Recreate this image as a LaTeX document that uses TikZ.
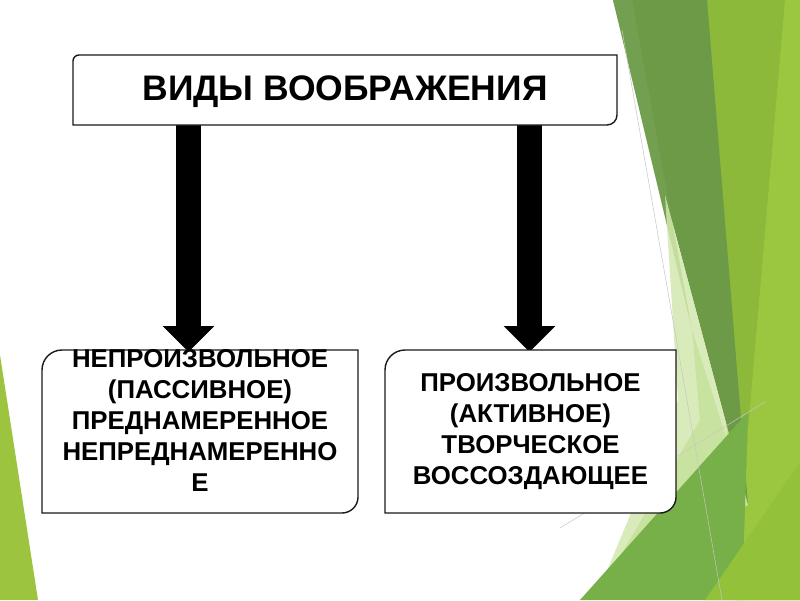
\documentclass[tikz,border=0pt]{standalone}
\usepackage{fontspec}
\setmainfont{Liberation Sans}
\usetikzlibrary{arrows.meta}
\definecolor{gdark}{HTML}{6C9A46}
\definecolor{gdarkl}{HTML}{73A050}
\definecolor{glime}{HTML}{8CB93A}
\definecolor{glimel}{HTML}{9BC640}
\definecolor{gmid}{HTML}{77AF48}
\definecolor{glimeb}{HTML}{93C23A}
\definecolor{gpale}{HTML}{D3E8AE}
\definecolor{gpale2}{HTML}{BEDC90}
\definecolor{gleft}{HTML}{9CC43E}
\tikzset{
  boxshape/.style={rectangle, inner sep=0pt, outer sep=0pt},
  boxline/.style={draw=black!90, line width=1.4pt, fill=white},
  titletext/.style={font=\bfseries\fontsize{35.5}{40}\selectfont, inner sep=0pt},
  lowtext/.style={font=\bfseries\fontsize{25.8}{31}\selectfont, align=center, inner sep=0pt},
  bigarrow/.style={line width=25pt, -{Triangle[width=50pt,length=26pt]}, shorten >=-2pt},
  faint/.style={draw=gray!45, line width=0.5pt}
}
\begin{document}
\begin{tikzpicture}[x=1pt,y=-1pt]
\useasboundingbox (0,0) rectangle (800,600);
\fill[white] (0,0) rectangle (800,600);
% background facets
\fill[glime] (705,0) -- (800,0) -- (800,600) -- (735,600) -- cycle;
\fill[glimel] (785,0) -- (800,0) -- (800,600) -- (740,600) -- (748,430) -- cycle;
\fill[gdark] (613,0) -- (707,0) -- (748,505) -- cycle;
\fill[gdarkl] (613,0) -- (632,0) -- (692,330) -- cycle;
\fill[gpale, opacity=0.85] (665,195) -- (748,505) -- (604,578) -- (678,400) -- cycle;
\fill[gpale2, opacity=0.6] (692,330) -- (748,505) -- (615,565) -- (700,420) -- cycle;
\fill[gmid] (580,600) -- (748,412) -- (742,600) -- cycle;
\fill[glimeb] (705,600) -- (800,462) -- (800,600) -- cycle;
\draw[faint] (622,30) -- (722,600);
\draw[faint] (560,528) -- (765,402);
\fill[gleft] (0,355) -- (38,600) -- (0,600) -- cycle;
% box frames (named)
\node[boxshape, minimum width=544pt, minimum height=70pt] (T) at (345,90) {};
\node[boxshape, minimum width=316pt, minimum height=163pt] (L) at (200,431.5) {};
\node[boxshape, minimum width=291pt, minimum height=163pt] (R) at (530.5,431.5) {};
% arrows
\coordinate (xa) at (188.5,0);
\coordinate (xb) at (529.5,0);
\draw[bigarrow] (xa |- T.south) -- (xa |- L.north);
\draw[bigarrow] (xb |- T.south) -- (xb |- R.north);
% outlines
\draw[boxline] (T.south west) -- ([yshift=-6pt]T.north west) arc[start angle=180,end angle=90,radius=6pt]
  -- (T.north east) -- ([yshift=10pt]T.south east) arc[start angle=0,end angle=-90,radius=10pt] -- cycle;
\draw[boxline] (L.south west) -- ([yshift=-20pt]L.north west) arc[start angle=180,end angle=90,radius=20pt]
  -- (L.north east) -- ([yshift=16pt]L.south east) arc[start angle=0,end angle=-90,radius=16pt] -- cycle;
\draw[boxline] (R.south west) -- ([yshift=-20pt]R.north west) arc[start angle=180,end angle=90,radius=20pt]
  -- (R.north east) -- ([yshift=16pt]R.south east) arc[start angle=0,end angle=-90,radius=16pt] -- cycle;
% texts
\node[titletext] (Tt) at ([yshift=-1.5pt]T.center) {ВИДЫ ВООБРАЖЕНИЯ};
\node[lowtext] (Lt) at (200,420) {НЕПРОИЗВОЛЬНОЕ\\(ПАССИВНОЕ)\\ПРЕДНАМЕРЕННОЕ\\НЕПРЕДНАМЕРЕННО\\Е};
\node[lowtext] (Rt) at (R.center) {ПРОИЗВОЛЬНОЕ\\(АКТИВНОЕ)\\ТВОРЧЕСКОЕ\\ВОССОЗДАЮЩЕЕ};
\end{tikzpicture}
\end{document}
